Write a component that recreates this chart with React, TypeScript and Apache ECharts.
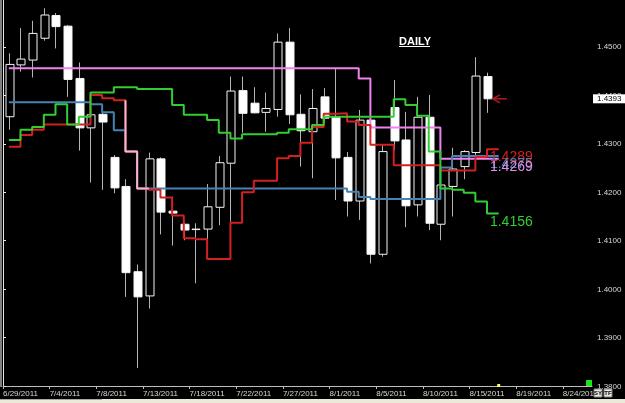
import React, { useEffect, useRef } from "react";
import * as echarts from "echarts";

// x tick labels (one every 4 bars, starting at bar 0)
const dateLabels = [
  "6/29/2011", "7/4/2011", "7/8/2011", "7/13/2011", "7/18/2011", "7/22/2011", "7/27/2011",
  "8/1/2011", "8/5/2011", "8/10/2011", "8/15/2011", "8/19/2011", "8/24/2011",
];

// Daily candles, bar 0 = 6/29/2011
const opens = [1.4356, 1.4463, 1.4473, 1.4518, 1.4565, 1.4543, 1.4435, 1.4333, 1.4361, 1.4272, 1.4212, 1.4036, 1.3986, 1.4269, 1.4161, 1.4134, 1.4124, 1.4124, 1.4169, 1.426, 1.441, 1.4384, 1.4365, 1.4371, 1.451, 1.4361, 1.4325, 1.4397, 1.4356, 1.4272, 1.4182, 1.4349, 1.4072, 1.4375, 1.4308, 1.4174, 1.4355, 1.4134, 1.4212, 1.4253, 1.4282, 1.4439];
const closes = [1.4464, 1.4475, 1.4528, 1.4566, 1.4542, 1.4433, 1.4333, 1.436, 1.4345, 1.4209, 1.4034, 1.3984, 1.4269, 1.4159, 1.4157, 1.4122, 1.4123, 1.417, 1.4261, 1.4409, 1.4363, 1.4364, 1.4373, 1.451, 1.436, 1.4327, 1.4373, 1.4353, 1.4271, 1.4182, 1.4349, 1.4072, 1.4284, 1.4306, 1.4172, 1.4355, 1.4136, 1.4215, 1.4248, 1.4284, 1.444, 1.4393];
const highs = [1.4487, 1.4539, 1.4554, 1.458, 1.457, 1.4545, 1.4468, 1.4362, 1.4364, 1.4277, 1.4227, 1.4051, 1.4282, 1.4272, 1.4191, 1.4137, 1.4136, 1.4217, 1.4275, 1.4439, 1.4439, 1.4417, 1.4406, 1.4528, 1.4539, 1.4402, 1.4413, 1.4415, 1.4456, 1.4283, 1.437, 1.4366, 1.4298, 1.4432, 1.4366, 1.4397, 1.4401, 1.425, 1.4292, 1.4287, 1.4479, 1.4447];
const lows = [1.4329, 1.4449, 1.4437, 1.4513, 1.4497, 1.4397, 1.4286, 1.422, 1.4205, 1.4198, 1.3984, 1.3837, 1.396, 1.4113, 1.409, 1.4101, 1.4012, 1.4066, 1.4132, 1.4139, 1.4323, 1.4363, 1.4325, 1.4356, 1.4341, 1.4253, 1.4229, 1.4345, 1.4184, 1.415, 1.4143, 1.4053, 1.4067, 1.4287, 1.4128, 1.415, 1.4122, 1.4101, 1.415, 1.4227, 1.4267, 1.4364];

// Indicator step lines (bars 0..42)
const pinkLine = [
  1.4456, 1.4456, 1.4456, 1.4456, 1.4456, 1.4456, 1.4456, 1.4456, 1.4456, 1.4456,
  1.4456, 1.4456, 1.4456, 1.4456, 1.4456, 1.4456, 1.4456, 1.4456, 1.4456, 1.4456,
  1.4456, 1.4456, 1.4456, 1.4456, 1.4456, 1.4456, 1.4456, 1.4456, 1.4456, 1.4456,
  1.4435, 1.4334, 1.4334, 1.4334, 1.4334, 1.4334, 1.4334, 1.4269, 1.4269, 1.4269,
  1.4269, 1.4269, 1.4269,
];
const blueLine = [
  1.4386, 1.4386, 1.4386, 1.4386, 1.4386, 1.4386, 1.4386, 1.4382, 1.4365, 1.4328,
  1.4284, 1.4208, 1.4208, 1.4208, 1.4208, 1.4208, 1.4208, 1.4208, 1.4208, 1.4208,
  1.4208, 1.4208, 1.4208, 1.4208, 1.4208, 1.4208, 1.4208, 1.4208, 1.4208, 1.4201,
  1.419, 1.4186, 1.4186, 1.4186, 1.4186, 1.4186, 1.4186, 1.4251, 1.4275, 1.4275,
  1.4275, 1.4275, 1.4275,
];
const redLine = [
  1.4294, 1.4318, 1.4329, 1.434, 1.434, 1.434, 1.434, 1.4401, 1.4394, 1.439,
  1.4284, 1.4208, 1.4205, 1.4189, 1.4152, 1.4105, 1.4103, 1.4062, 1.4062, 1.4137,
  1.42, 1.4224, 1.4224, 1.427, 1.4275, 1.4302, 1.4335, 1.4362, 1.4363, 1.4346,
  1.4339, 1.4298, 1.4298, 1.4256, 1.4256, 1.4256, 1.4256, 1.4245, 1.4245, 1.4245,
  1.4273, 1.4289, 1.4289,
];
const greenLine = [
  1.4308, 1.4329, 1.4335, 1.436, 1.4382, 1.434, 1.4356, 1.4406, 1.4406, 1.4417,
  1.4417, 1.4413, 1.4413, 1.4413, 1.438, 1.436, 1.436, 1.4349, 1.4323, 1.4311,
  1.432, 1.432, 1.432, 1.4323, 1.433, 1.433, 1.4339, 1.4356, 1.4356, 1.4356,
  1.4356, 1.4356, 1.4356, 1.4392, 1.438, 1.4358, 1.4284, 1.4208, 1.4205, 1.4199,
  1.4181, 1.4156, 1.4156,
];
// where the red and blue lines run together (drawn light pink)
const overlapBars = [10, 11, 12];
const overlapValues = [1.439, 1.4284, 1.4208];

const PINK = "#ee82ee";
const BLUE = "#4682b4";
const RED = "#d42020";
const GREEN = "#32cd32";
const FONT = '"Liberation Sans", Arial, sans-serif';

export default function App() {
  const ref = useRef<HTMLDivElement>(null);

  useEffect(() => {
    const el = ref.current!;
    const chart = echarts.init(el, null, { renderer: "svg" });
    const candleData = opens.map((o, i) => [i + 0.5, o, closes[i], lows[i], highs[i]]);
    const toSeries = (arr: number[]) => arr.map((v, i) => [i + 0.5, v]);
    const lineSeries = (arr: number[], color: string) => ({
      type: "line",
      data: toSeries(arr),
      step: "end",
      showSymbol: false,
      symbol: "none",
      silent: true,
      z: 3,
      lineStyle: { color, width: 2 },
    });

    chart.setOption({
      animation: false,
      backgroundColor: "#000",
      textStyle: { fontFamily: FONT },
      grid: { left: 3, right: 33, top: 0, bottom: 17 },
      xAxis: {
        type: "value",
        min: 0,
        max: 50.5,
        interval: 4,
        axisLine: { show: true, lineStyle: { color: "#bdbdbd", width: 1 } },
        axisTick: { show: true, length: 3, lineStyle: { color: "#bdbdbd" } },
        splitLine: { show: false },
        axisLabel: {
          color: "#d8d8d8",
          fontSize: 8,
          fontFamily: FONT,
          align: "left",
          margin: 3,
          showMaxLabel: false,
          formatter: (v: number) => dateLabels[Math.round(v / 4)] ?? "",
        },
      },
      yAxis: {
        type: "value",
        position: "right",
        min: 1.38,
        max: 1.4597,
        interval: 0.01,
        axisLine: { show: true, lineStyle: { color: "#e6e6e6", width: 1 } },
        axisTick: { show: true, length: 3, lineStyle: { color: "#e6e6e6" } },
        splitLine: { show: false },
        axisLabel: {
          color: "#d8d8d8",
          fontSize: 8,
          fontFamily: FONT,
          margin: 5,
          showMaxLabel: false,
          formatter: (v: number) => v.toFixed(4),
        },
      },
      series: [
        {
          type: "custom",
          data: candleData,
          encode: { x: 0, y: [1, 2, 3, 4] },
          z: 2,
          silent: true,
          renderItem: (params: any, api: any) => {
            const x = api.value(0);
            const o = api.value(1);
            const c = api.value(2);
            const l = api.value(3);
            const h = api.value(4);
            const pO = api.coord([x, o]);
            const pC = api.coord([x, c]);
            const pL = api.coord([x, l]);
            const pH = api.coord([x, h]);
            const w = Math.round(api.size([1, 0])[0] * 0.7);
            const cx = Math.round(pO[0]) + 0.5;
            const top = Math.min(pO[1], pC[1]);
            const bot = Math.max(pO[1], pC[1]);
            const bull = c >= o;
            return {
              type: "group",
              children: [
                {
                  type: "line",
                  shape: { x1: cx, y1: pH[1], x2: cx, y2: pL[1] },
                  style: { stroke: "#b4b4b4", lineWidth: 1 },
                },
                {
                  type: "rect",
                  shape: { x: Math.round(cx - w / 2), y: top, width: w, height: bot - top },
                  style: { fill: bull ? "#000" : "#fff", stroke: "#f4f4f4", lineWidth: 1 },
                },
              ],
            };
          },
        },
        lineSeries(pinkLine, PINK),
        lineSeries(blueLine, BLUE),
        lineSeries(redLine, RED),
        lineSeries(greenLine, GREEN),
        {
          type: "line",
          data: overlapBars.map((b, i) => [b + 0.5, overlapValues[i]]),
          step: "start",
          showSymbol: false,
          symbol: "none",
          silent: true,
          z: 4,
          lineStyle: { color: "#f2b4d6", width: 2 },
        },
      ],
    });

    const P = (x: number, y: number) =>
      chart.convertToPixel({ gridIndex: 0 } as any, [x, y]) as number[];
    const last = pinkLine.length - 1;
    const labelX = P(41.75, 1.4)[0];
    const valueLabel = (arr: number[], color: string) => ({
      type: "text",
      x: labelX,
      y: P(0, arr[last])[1],
      z: 100,
      style: {
        text: arr[last].toFixed(4),
        fill: color,
        font: `14px ${FONT}`,
        verticalAlign: "top",
      },
    });
    const lastClose = closes[closes.length - 1];
    const pc = P(closes.length, lastClose);
    const marker = P(42.5, 1.38);

    chart.setOption({
      graphic: {
        elements: [
          { type: "rect", z: 100, shape: { x: 0, y: 0, width: 2, height: 387 }, style: { fill: "#808080" } },
          {
            type: "text",
            z: 100,
            x: 399,
            y: 41,
            style: { text: "DAILY", fill: "#fff", font: `bold 11px ${FONT}`, verticalAlign: "middle" },
          },
          { type: "rect", z: 100, shape: { x: 399, y: 46, width: 31, height: 1 }, style: { fill: "#fff" } },
          valueLabel(redLine, RED),
          valueLabel(blueLine, BLUE),
          valueLabel(pinkLine, "#e78ce7"),
          valueLabel(greenLine, GREEN),
          {
            type: "polyline",
            z: 100,
            shape: { points: [[pc[0] + 7, pc[1] - 4], [pc[0], pc[1]], [pc[0] + 7, pc[1] + 4]] },
            style: { stroke: "#b01c1c", lineWidth: 1.5, fill: "none" },
          },
          {
            type: "line",
            z: 100,
            shape: { x1: pc[0], y1: pc[1], x2: pc[0] + 14, y2: pc[1] },
            style: { stroke: "#b01c1c", lineWidth: 1.5 },
          },
          { type: "rect", z: 100, shape: { x: 593, y: pc[1] - 4.5, width: 32, height: 9 }, style: { fill: "#fff" } },
          {
            type: "text",
            z: 101,
            x: 597,
            y: pc[1],
            style: { text: lastClose.toFixed(4), fill: "#000", font: `8px ${FONT}`, verticalAlign: "middle" },
          },
          { type: "rect", z: 100, shape: { x: marker[0] - 1.5, y: marker[1] - 2, width: 3, height: 3 }, style: { fill: "#ffff60" } },
          { type: "rect", z: 100, shape: { x: 586, y: 380, width: 6, height: 6 }, style: { fill: "#19e619" } },
          { type: "rect", z: 100, shape: { x: 0, y: 399, width: 625, height: 4 }, style: { fill: "#ece9d8" } },
          { type: "rect", z: 100, shape: { x: 0, y: 399, width: 102, height: 1 }, style: { fill: "#a8a8a8" } },
          { type: "rect", z: 100, shape: { x: 594, y: 389, width: 8, height: 8 }, style: { fill: "#e8e8e8", stroke: "#808080", lineWidth: 1 } },
          { type: "rect", z: 100, shape: { x: 604, y: 389, width: 8, height: 8 }, style: { fill: "#e8e8e8", stroke: "#808080", lineWidth: 1 } },
          {
            type: "text",
            z: 101,
            x: 598,
            y: 393,
            style: { text: "SY", fill: "#000", font: `bold 6px ${FONT}`, align: "center", verticalAlign: "middle" },
          },
          {
            type: "text",
            z: 101,
            x: 608,
            y: 393,
            style: { text: "TF", fill: "#000", font: `bold 6px ${FONT}`, align: "center", verticalAlign: "middle" },
          },
        ],
      },
    });

    // emulate the XOR-style drawing of the indicator lines over white candle bodies
    const norm = (s: string) => s.replace(/\s+/g, "").toLowerCase();
    const blendSet = new Set<string>();
    [PINK, BLUE, RED, GREEN].forEach((c) => {
      blendSet.add(norm(c));
      const rgb = echarts.color.parse(c);
      if (rgb) blendSet.add(norm(`rgb(${rgb[0]},${rgb[1]},${rgb[2]})`));
    });
    el.querySelectorAll("path").forEach((p) => {
      const s = norm(p.getAttribute("stroke") || "");
      if (blendSet.has(s)) (p as unknown as SVGElement).style.mixBlendMode = "difference";
    });

    return () => chart.dispose();
  }, []);

  return (
    <div
      ref={ref}
      style={{ position: "absolute", left: 0, top: 0, width: 625, height: 403, background: "#000" }}
    />
  );
}
